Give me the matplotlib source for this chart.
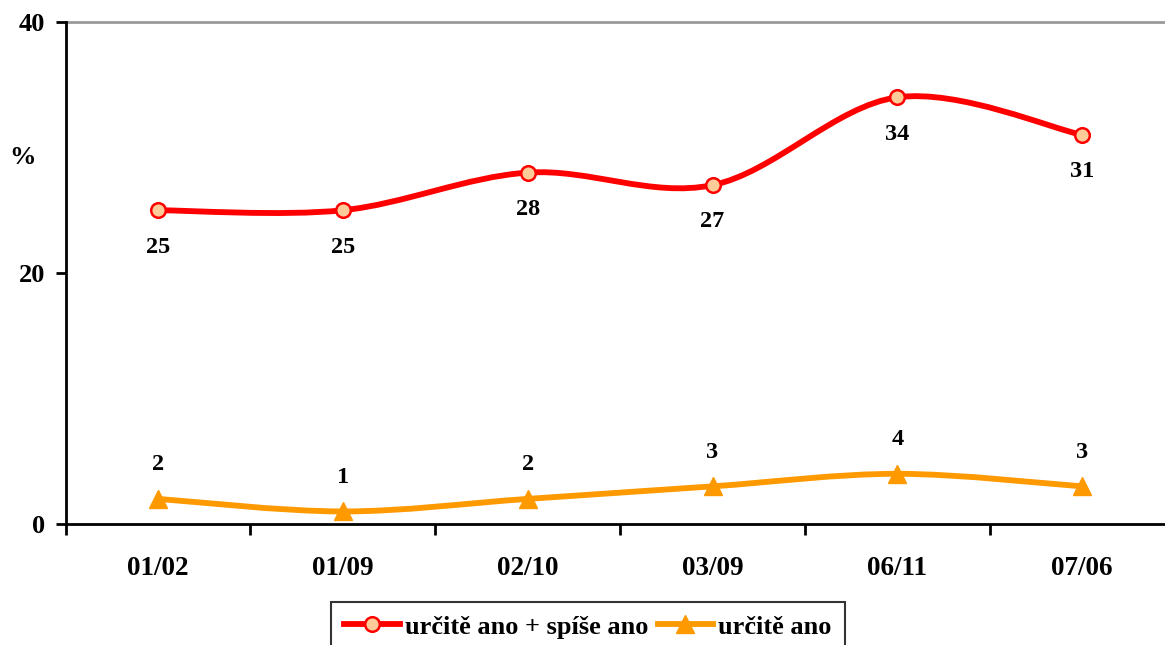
import matplotlib.pyplot as plt
import numpy as np
from matplotlib.path import Path
from matplotlib.patches import PathPatch
from matplotlib.lines import Line2D

categories = ["01/02", "01/09", "02/10", "03/09", "06/11", "07/06"]
series_red = [25, 25, 28, 27, 34, 31]
series_orange = [2, 1, 2, 3, 4, 3]
label_red = "určitě ano + spíše ano"
label_orange = "určitě ano"

plt.rcParams['font.family'] = ['Liberation Serif', 'DejaVu Serif']
plt.rcParams['font.weight'] = 'bold'


def smooth_path(xs, ys):
    # excel-like smoothed line: catmull-rom converted to cubic beziers
    pts = np.column_stack([xs, ys]).astype(float)
    ext = np.vstack([pts[0], pts, pts[-1]])
    verts = [pts[0]]
    codes = [Path.MOVETO]
    for i in range(len(pts) - 1):
        p0, p1, p2, p3 = ext[i], ext[i + 1], ext[i + 2], ext[i + 3]
        c1 = p1 + (p2 - p0) / 6.0
        c2 = p2 - (p3 - p1) / 6.0
        verts += [c1, c2, p2]
        codes += [Path.CURVE4] * 3
    return Path(verts, codes)


fig = plt.figure(figsize=(11.65, 6.45), dpi=100)
ax = fig.add_axes([65.6 / 1165, 121 / 645, 1109 / 1165, 502 / 645])

x = np.arange(len(categories))
red = "#FF0000"
orange = "#FF9900"
lw = 4.2

ax.add_patch(PathPatch(smooth_path(x, series_red), facecolor="none", edgecolor=red, lw=lw, capstyle="round", zorder=3))
ax.add_patch(PathPatch(smooth_path(x, series_orange), facecolor="none", edgecolor=orange, lw=lw, capstyle="round", zorder=3))
ax.plot(x, series_red, linestyle="none", marker="o", markersize=10.5, markerfacecolor="#FFCC99",
        markeredgecolor=red, markeredgewidth=1.8, zorder=4)
ax.plot(x, series_orange, linestyle="none", marker="^", markersize=12.5, markerfacecolor=orange,
        markeredgecolor=orange, zorder=4)

for xi, v in zip(x, series_red):
    ax.annotate(str(v), (xi, v), xytext=(0, -26.5), textcoords="offset points", ha="center", va="center",
                fontsize=17.5, fontweight="bold")
for xi, v in zip(x, series_orange):
    ax.annotate(str(v), (xi, v), xytext=(0, 24.5), textcoords="offset points", ha="center", va="center",
                fontsize=17.5, fontweight="bold")

ax.set_xlim(-0.5, len(categories) - 0.5)
ax.set_ylim(0, 40)
ax.axhline(40, color="#999999", lw=2, zorder=1, clip_on=False)

ax.set_yticks([0, 20, 40])
ax.set_yticklabels(["0", "20", "40"], fontsize=19, fontweight="bold")
ax.set_xticks(x)
ax.set_xticklabels(categories, fontsize=19.5, fontweight="bold")
ax.set_xticks(np.arange(-0.5, len(categories), 1.0), minor=True)
ax.tick_params(axis="x", which="major", length=0, pad=23)
ax.tick_params(axis="x", which="minor", length=8, width=2, direction="out")
ax.tick_params(axis="y", length=7, width=2, direction="out", pad=8)

for s in ["top", "right"]:
    ax.spines[s].set_visible(False)
for s in ["left", "bottom"]:
    ax.spines[s].set_linewidth(2)

fig.text(22 / 1165, 1 - 158 / 645, "%", fontsize=19, fontweight="bold", ha="center", va="center")

handles = [
    Line2D([], [], color=red, lw=lw, marker="o", markersize=10.5, markerfacecolor="#FFCC99",
           markeredgecolor=red, markeredgewidth=1.8),
    Line2D([], [], color=orange, lw=lw, marker="^", markersize=12.5, markerfacecolor=orange,
           markeredgecolor=orange),
]
leg = fig.legend(handles, [label_red, label_orange], loc="upper left", bbox_to_anchor=(331 / 1165, 1 - 602 / 645),
                 ncol=2, frameon=True, fancybox=False, prop={"weight": "bold", "size": 19},
                 handlelength=2.1, handletextpad=0.2, columnspacing=0.35, borderpad=0.5, borderaxespad=0)
leg.get_frame().set_edgecolor("black")
leg.get_frame().set_linewidth(1.5)

fig.savefig("out.png", dpi=100)
